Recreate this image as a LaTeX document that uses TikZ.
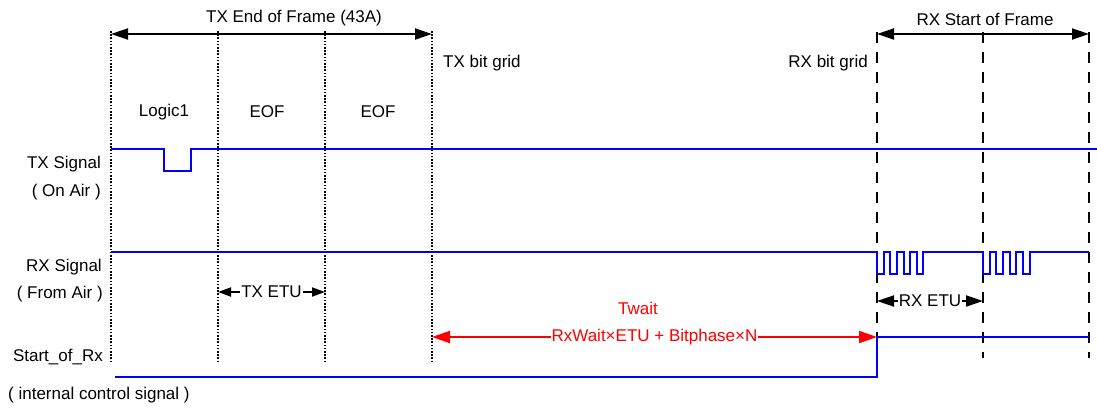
\documentclass[tikz,border=0pt]{standalone}
\usepackage{fontspec}
\setmainfont{Liberation Sans}
\usetikzlibrary{arrows.meta}
\begin{document}
\begin{tikzpicture}[x=1pt,y=-1pt,
  lbl/.style={font=\fontsize{17}{19}\selectfont, inner sep=0pt},
  txgrid/.style={line width=1.6pt, dash pattern=on 1.6pt off 1.6pt},
  rxgrid/.style={line width=2.6pt, dash pattern=on 11pt off 9pt},
  sig/.style={blue, line width=1.9pt},
  bigdim/.style={line width=1.9pt, {Triangle[length=17pt,width=11pt]}-{Triangle[length=17pt,width=11pt]}},
  etudim/.style={line width=1.9pt, {Triangle[length=13pt,width=9pt]}-{Triangle[length=13pt,width=9pt]}},
  rxetudim/.style={line width=1.9pt, {Triangle[length=17pt,width=11pt]}-{Triangle[length=17pt,width=11pt]}},
  reddim/.style={red, line width=1.9pt, {Triangle[length=18pt,width=12pt]}-{Triangle[length=18pt,width=12pt]}},
  onwhite/.style={fill=white, inner xsep=1pt, inner ysep=0pt}
]
\useasboundingbox (0,0) rectangle (1097,408);

% TX bit grid (dotted)
\foreach \n/\x in {a/111,b/218,c/325,d/432}{
  \coordinate (\n t) at (\x,31);
  \coordinate (\n b) at (\x,363);
  \draw[txgrid] (\n t) -- (\n b);
}
% RX bit grid (dashed)
\foreach \n/\x in {e/877,f/983,g/1089}{
  \coordinate (\n t) at (\x,32);
  \coordinate (\n b) at (\x,358);
  \draw[rxgrid] (\n t) -- (\n b);
}

% frame arrows
\coordinate (txl) at (111,34);
\coordinate (txr) at (432,34);
\draw[bigdim] (txl) -- (txr);
\node[lbl] (txeof) at (294,18) {TX End of Frame (43A)};

\coordinate (rxl) at (877,34);
\coordinate (rxr) at (1089,34);
\draw[bigdim] (rxl) -- (rxr);
\node[lbl] (rxsof) at (985,19) {RX Start of Frame};

\node[lbl, anchor=west] (txbg) at (443,63) {TX bit grid};
\node[lbl, anchor=east] (rxbg) at (868,63) {RX bit grid};

\node[lbl] (l1) at (164,112) {Logic1};
\node[lbl] (eof1) at (267,112) {EOF};
\node[lbl] (eof2) at (378,112) {EOF};

% left labels
\node[lbl, anchor=east] (txs) at (101,164) {TX Signal};
\node[lbl, anchor=east] (txs2) at (101,192) {( On Air )};
\node[lbl, anchor=east] (rxs) at (102,267) {RX Signal};
\node[lbl, anchor=east] (rxs2) at (103,294) {( From Air )};
\node[lbl, anchor=east] (sor) at (103,357) {Start\_of\_Rx};
\node[lbl, anchor=west] (sor2) at (8,395) {( internal control signal )};

% TX signal
\draw[sig] (111,149) -- (164,149) -- (164,171) -- (191,171) -- (191,149) -- (1097,149);

% RX signal
\draw[sig] (111,252) -- (877,252)
  -- (877,274) -- (884,274) -- (884,252) -- (890,252)
  -- (890,274) -- (897,274) -- (897,252) -- (904,252)
  -- (904,274) -- (910,274) -- (910,252) -- (917,252)
  -- (917,274) -- (923,274) -- (923,252) -- (983,252)
  -- (983,274) -- (990,274) -- (990,252) -- (996,252)
  -- (996,274) -- (1003,274) -- (1003,252) -- (1010,252)
  -- (1010,274) -- (1016,274) -- (1016,252) -- (1023,252)
  -- (1023,274) -- (1030,274) -- (1030,252) -- (1089,252);

% ETU arrows
\coordinate (tel) at (218,292);
\coordinate (ter) at (325,292);
\draw[etudim] (tel) -- (ter) node[midway, lbl, onwhite] (txetu) {TX ETU};
\coordinate (rel) at (877,301);
\coordinate (rer) at (983,301);
\draw[rxetudim] (rel) -- (rer) node[midway, lbl, onwhite] (rxetu) {RX ETU};

% Start_of_Rx signal
\coordinate (s0) at (115,377);
\coordinate (s1) at (877,377);
\coordinate (s2) at (877,337);
\coordinate (s3) at (1089,337);
\draw[sig] (s0) -- (s1) -- (s2) -- (s3);

% Twait
\coordinate (twl) at (432,337);
\draw[reddim] (twl) -- (s2) node[midway, lbl, onwhite, text=red] (tform) {RxWait×ETU + Bitphase×N};
\node[lbl, text=red] (tw) at (638,308) {Twait};
\end{tikzpicture}
\end{document}
